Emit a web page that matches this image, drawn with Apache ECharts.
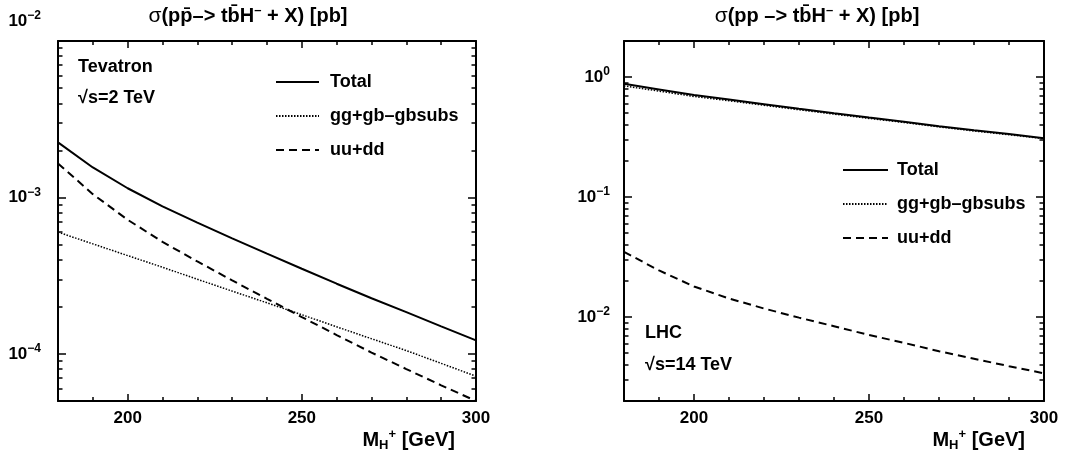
<!DOCTYPE html>
<html><head><meta charset="utf-8">
<script src="https://cdn.jsdelivr.net/npm/echarts@6/dist/echarts.min.js"></script>
<style>html,body{margin:0;padding:0;background:#fff}#c{width:1077px;height:453px}</style>
</head><body><div id="c"></div>
<script>
// ---------- data ----------
const masses = [180, 190, 200, 210, 220, 230, 240, 250, 260, 270, 280, 290, 300];
// Tevatron (sqrt s = 2 TeV)
const tevTotal = [2.25e-3, 1.555e-3, 1.145e-3, 8.78e-4, 6.9e-4, 5.47e-4, 4.37e-4, 3.5e-4, 2.81e-4, 2.27e-4, 1.85e-4, 1.5e-4, 1.22e-4];
const tevGG    = [6.0e-4, 5.05e-4, 4.25e-4, 3.58e-4, 3.0e-4, 2.52e-4, 2.12e-4, 1.78e-4, 1.49e-4, 1.25e-4, 1.05e-4, 8.7e-5, 7.2e-5];
const tevUU    = [1.65e-3, 1.05e-3, 7.2e-4, 5.2e-4, 3.9e-4, 2.95e-4, 2.25e-4, 1.72e-4, 1.32e-4, 1.02e-4, 8.0e-5, 6.3e-5, 5.0e-5];
// LHC (sqrt s = 14 TeV)
const lhcTotal = [0.88, 0.79, 0.71, 0.65, 0.595, 0.545, 0.50, 0.46, 0.425, 0.39, 0.36, 0.335, 0.31];
const lhcGG    = [0.845, 0.765, 0.69, 0.636, 0.583, 0.535, 0.492, 0.453, 0.419, 0.385, 0.356, 0.331, 0.307];
const lhcUU    = [0.035, 0.0245, 0.018, 0.0143, 0.0118, 0.0099, 0.0084, 0.0071, 0.0061, 0.0052, 0.0045, 0.0039, 0.0034];

const seriesNames = ['Total', 'gg+gb\u2013gbsubs', 'uu+dd'];

// ---------- ticks ----------
const xMajorTicks = [200, 250, 300];
const xMinorTicks = [180, 190, 200, 210, 220, 230, 240, 250, 260, 270, 280, 290, 300];
const tevYRange = [5e-5, 1e-2];
const tevYExps = [-4, -3, -2];
const tevYMinor = [5e-5, 6e-5, 7e-5, 8e-5, 9e-5, 1e-4, 2e-4, 3e-4, 4e-4, 5e-4, 6e-4, 7e-4, 8e-4, 9e-4,
                   1e-3, 2e-3, 3e-3, 4e-3, 5e-3, 6e-3, 7e-3, 8e-3, 9e-3, 1e-2];
const lhcYRange = [2e-3, 2];
const lhcYExps = [-2, -1, 0];
const lhcYMinor = [2e-3, 3e-3, 4e-3, 5e-3, 6e-3, 7e-3, 8e-3, 9e-3, 1e-2, 2e-2, 3e-2, 4e-2, 5e-2, 6e-2, 7e-2, 8e-2, 9e-2,
                   0.1, 0.2, 0.3, 0.4, 0.5, 0.6, 0.7, 0.8, 0.9, 1, 2];

// ---------- styles ----------
const FF = '"Liberation Sans", Arial, Helvetica, sans-serif';
const BLACK = '#000';
const lineStyles = [
  {color: BLACK, width: 2, type: 'solid'},
  {color: BLACK, width: 1.5, type: [1.5, 1.5]},
  {color: BLACK, width: 2, type: [8, 5]}
];

const grids = [
  {left: 58, top: 41, width: 418, height: 360, outerBoundsMode: 'none', containLabel: false},
  {left: 624, top: 41, width: 420, height: 360, outerBoundsMode: 'none', containLabel: false}
];

const xAxis = [], yAxis = [];
const noSplit = {show: false};
function makeSupLabel(topExp) {
  return function (v) {
    const e = Math.round(v);
    const s = e < 0 ? '\u2212' + (-e) : '' + e;
    const main = '{b|10}{s|' + s + '}';
    // the top label of the Tevatron panel sits above the frame
    return (topExp !== null && e === topExp) ? main + '\n{e| }' : main;
  };
}
const labelRich = {
  b: {fontSize: 17, fontWeight: 'bold', fontFamily: FF, color: BLACK, lineHeight: 22},
  s: {fontSize: 12, fontWeight: 'bold', fontFamily: FF, color: BLACK, lineHeight: 12, verticalAlign: 'top'},
  e: {fontSize: 10, lineHeight: 40}
};

function addPanel(g, yr, exps, minor, labelMargin, topExp) {
  const lmin = Math.log10(yr[0]), lmax = Math.log10(yr[1]);
  const xi = xAxis.length;
  const xb = {type: 'value', gridIndex: g, min: 180, max: 300, splitLine: noSplit};
  const line = {show: true, onZero: false, lineStyle: {color: BLACK, width: 2}};
  const noLine = {show: false, onZero: false};
  const tk = (vals, len) => ({show: true, inside: true, length: len, customValues: vals, lineStyle: {color: BLACK, width: 1.5}});
  xAxis.push(Object.assign({}, xb, {position: 'bottom', axisLine: line, axisTick: tk(xMinorTicks, 4),
    axisLabel: {show: true, customValues: xMajorTicks, margin: 9, color: BLACK, fontSize: 17, fontWeight: 'bold', fontFamily: FF}}));
  xAxis.push(Object.assign({}, xb, {position: 'bottom', axisLine: noLine, axisTick: tk(xMajorTicks, 7), axisLabel: {show: false}}));
  xAxis.push(Object.assign({}, xb, {position: 'top', axisLine: line, axisTick: tk(xMinorTicks, 4), axisLabel: {show: false}}));
  xAxis.push(Object.assign({}, xb, {position: 'top', axisLine: noLine, axisTick: tk(xMajorTicks, 7), axisLabel: {show: false}}));

  const yi = yAxis.length;
  yAxis.push({type: 'log', logBase: 10, gridIndex: g, min: yr[0], max: yr[1], position: 'left',
    axisLine: line, axisTick: {show: false}, axisLabel: {show: false}, splitLine: noSplit});
  const yb = {type: 'value', gridIndex: g, min: lmin, max: lmax, splitLine: noSplit};
  const lminor = minor.map(Math.log10);
  yAxis.push(Object.assign({}, yb, {position: 'left', axisLine: noLine, axisTick: tk(lminor, 4.5), axisLabel: {show: false}}));
  yAxis.push(Object.assign({}, yb, {position: 'left', axisLine: noLine, axisTick: tk(exps, 8),
    axisLabel: {show: true, customValues: exps, margin: labelMargin, formatter: makeSupLabel(topExp), rich: labelRich}}));
  yAxis.push(Object.assign({}, yb, {position: 'right', axisLine: line, axisTick: tk(lminor, 4.5), axisLabel: {show: false}}));
  yAxis.push(Object.assign({}, yb, {position: 'right', axisLine: noLine, axisTick: tk(exps, 8), axisLabel: {show: false}}));
  return {xi, yi};
}

const p0 = addPanel(0, tevYRange, tevYExps, tevYMinor, 17, -2);
const p1 = addPanel(1, lhcYRange, lhcYExps, lhcYMinor, 14, null);

function mk(name, vals, idx, p) {
  return {type: 'line', name: name, xAxisIndex: p.xi, yAxisIndex: p.yi, symbol: 'none', showSymbol: false, silent: true,
    lineStyle: lineStyles[idx], itemStyle: {color: BLACK}, animation: false,
    data: masses.map((m, i) => [m, vals[i]])};
}
const series = [
  mk(seriesNames[0], tevTotal, 0, p0), mk(seriesNames[1], tevGG, 1, p0), mk(seriesNames[2], tevUU, 2, p0),
  mk(seriesNames[0], lhcTotal, 0, p1), mk(seriesNames[1], lhcGG, 1, p1), mk(seriesNames[2], lhcUU, 2, p1)
];

const legText = {fontSize: 18, fontWeight: 'bold', fontFamily: FF, color: BLACK};
const legCommon = {orient: 'vertical', itemHeight: 14, itemGap: 16, selectedMode: false, padding: 0,
  itemStyle: {opacity: 0}, data: seriesNames};
const legend = [
  Object.assign({left: 275, top: 73, itemWidth: 43, textStyle: Object.assign({padding: [0, 0, 0, 6]}, legText)}, legCommon),
  Object.assign({left: 842, top: 161, itemWidth: 45, textStyle: Object.assign({padding: [0, 0, 0, 4]}, legText)}, legCommon)
];

const tRich = {
  n: {fontSize: 21, fontWeight: 'normal', fontFamily: FF, fill: BLACK, lineHeight: 24},
  b: {fontSize: 20, fontWeight: 'bold', fontFamily: FF, fill: BLACK, lineHeight: 24},
  sup: {fontSize: 13, fontWeight: 'bold', fontFamily: FF, fill: BLACK, lineHeight: 12, verticalAlign: 'top'},
  sub: {fontSize: 13, fontWeight: 'bold', fontFamily: FF, fill: BLACK, lineHeight: 12, verticalAlign: 'bottom'}
};
function txt(x, y, text, align) {
  return {type: 'text', x: x, y: y, silent: true,
    style: {text: text, rich: tRich, textAlign: align || 'left', textVerticalAlign: 'middle',
      font: 'bold 18px ' + FF, fill: BLACK}};
}
const graphic = [
  txt(248, 16, '{n|\u03c3}{b|(pp\u0304\u2013> tb\u0304H}{sup|\u2013}{b| + X) [pb]}', 'center'),
  txt(817, 16, '{n|\u03c3}{b|(pp \u2013> tb\u0304H}{sup|\u2013}{b| + X) [pb]}', 'center'),
  txt(455, 440, '{b|M}{sub|H}{sup|+}{b| [GeV]}', 'right'),
  txt(1025, 440, '{b|M}{sub|H}{sup|+}{b| [GeV]}', 'right'),
  txt(78, 67, 'Tevatron'),
  txt(78, 98, '\u221as=2 TeV'),
  txt(645, 333, 'LHC'),
  txt(645, 365, '\u221as=14 TeV')
];

const chart = echarts.init(document.getElementById('c'), null, {renderer: 'canvas'});
chart.setOption({
  animation: false,
  backgroundColor: '#fff',
  grid: grids,
  xAxis: xAxis,
  yAxis: yAxis,
  legend: legend,
  series: series,
  graphic: graphic
});
</script>
</body></html>
